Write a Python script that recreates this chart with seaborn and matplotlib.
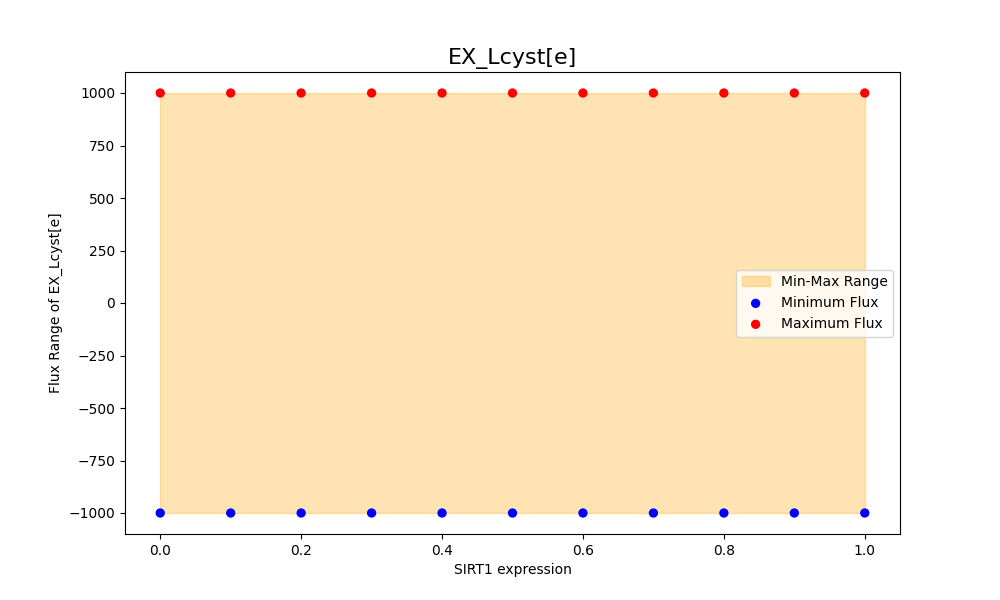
import numpy as np
import matplotlib
matplotlib.use("Agg")
import matplotlib.pyplot as plt
import seaborn as sns

reaction = "EX_Lcyst[e]"
sirt1_levels = [0.0, 0.1, 0.2, 0.3, 0.4, 0.5, 0.6, 0.7, 0.8, 0.9, 1.0]
min_flux = [-1000] * 11
max_flux = [1000] * 11

fig, ax = plt.subplots(figsize=(10, 6), dpi=100)

ax.fill_between(sirt1_levels, min_flux, max_flux, color="orange", alpha=0.3,
                label="Min-Max Range")
sns.scatterplot(x=sirt1_levels, y=min_flux, color="blue", s=45, edgecolor="none",
                label="Minimum Flux", ax=ax)
sns.scatterplot(x=sirt1_levels, y=max_flux, color="red", s=45, edgecolor="none",
                label="Maximum Flux", ax=ax)

ax.set_title(reaction, fontsize=16)
ax.set_xlabel("SIRT1 expression")
ax.set_ylabel(f"Flux Range of {reaction}")
ax.legend(loc="center right")

fig.savefig("out.png")
